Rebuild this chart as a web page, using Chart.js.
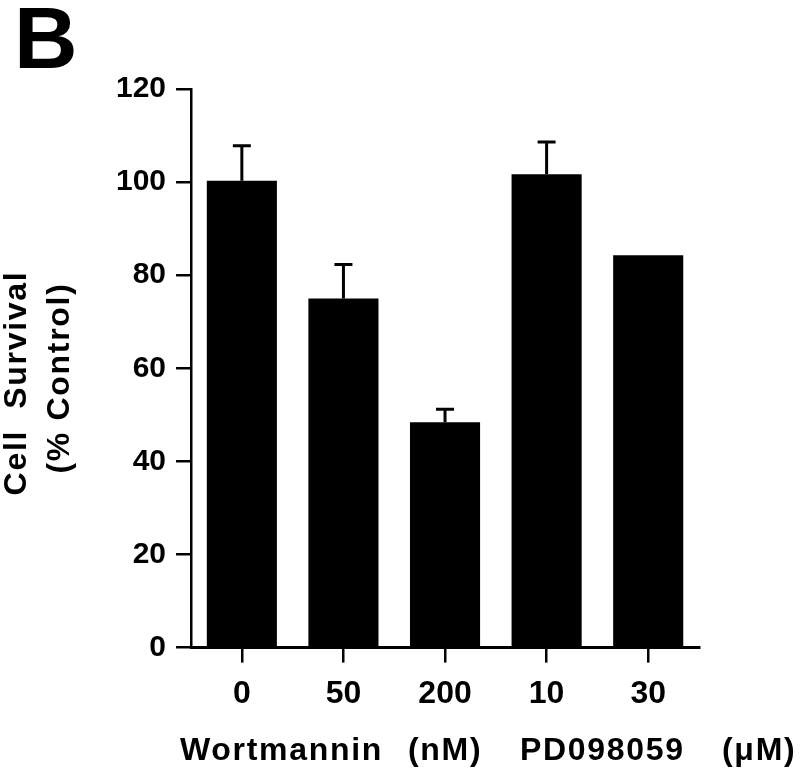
<!DOCTYPE html>
<html>
<head>
<meta charset="utf-8">
<script src="https://cdn.jsdelivr.net/npm/chart.js@4"></script>
<style>
  body { margin: 0; background: #fff; }
  #wrap { width: 800px; height: 768px; }
</style>
</head>
<body>
<div id="wrap"><canvas id="survivalChart" width="800" height="768"></canvas></div>
<script>
const doseLabels = ['0', '50', '200', '10', '30'];
const survival = [100.3, 75, 48.4, 101.7, 84.3];
const survivalErr = [7.5, 7.3, 2.8, 6.9, 0];
const yTickStep = 20;
const yMax = 120;

const FONT = "'Liberation Sans', Arial, Helvetica, sans-serif";

// T-shaped (upper only) error bars
const errorBars = {
  id: 'errorBars',
  afterDatasetsDraw(chart) {
    const ctx = chart.ctx;
    const meta = chart.getDatasetMeta(0);
    const y = chart.scales.y;
    ctx.save();
    ctx.strokeStyle = '#000';
    ctx.lineWidth = 3;
    meta.data.forEach((bar, i) => {
      if (!survivalErr[i]) return;
      const top = y.getPixelForValue(survival[i]);
      const cap = y.getPixelForValue(survival[i] + survivalErr[i]);
      ctx.beginPath();
      ctx.moveTo(bar.x, top);
      ctx.lineTo(bar.x, cap);
      ctx.moveTo(bar.x - 9, cap);
      ctx.lineTo(bar.x + 9, cap);
      ctx.stroke();
    });
    ctx.restore();
  }
};

// axis titles and panel letter
const figureText = {
  id: 'figureText',
  afterDraw(chart) {
    const ctx = chart.ctx;
    ctx.save();
    ctx.fillStyle = '#000';

    ctx.font = 'bold 88px ' + FONT;
    ctx.textAlign = 'left';
    ctx.textBaseline = 'alphabetic';
    ctx.fillText('B', 14, 68);

    ctx.letterSpacing = '1.7px';
    ctx.font = 'bold 32px ' + FONT;
    ctx.fillText('Wortmannin', 180, 760);
    ctx.fillText('(nM)', 408, 760);
    ctx.fillText('PD098059', 520, 760);
    ctx.fillText('(\u03BCM)', 722, 760);

    ctx.textAlign = 'center';
    ctx.textBaseline = 'middle';
    ctx.save();
    ctx.translate(17, 383);
    ctx.rotate(-Math.PI / 2);
    ctx.fillText('Cell  Survival', 0, 0);
    ctx.restore();
    ctx.save();
    ctx.translate(60, 378);
    ctx.rotate(-Math.PI / 2);
    ctx.fillText('(% Control)', 0, 0);
    ctx.restore();

    ctx.restore();
  }
};

const config = {
  type: 'bar',
  data: {
    labels: doseLabels,
    datasets: [{
      data: survival,
      backgroundColor: '#000',
      borderWidth: 0,
      barPercentage: 0.69,
      categoryPercentage: 1.0
    }]
  },
  options: {
    responsive: false,
    animation: false,
    devicePixelRatio: 1,
    layout: {
      padding: { left: 106, top: 89, right: 101, bottom: 43 }
    },
    plugins: {
      legend: { display: false },
      tooltip: { enabled: false },
      title: { display: false }
    },
    scales: {
      x: {
        offset: true,
        border: { display: true, color: '#000', width: 3 },
        grid: {
          offset: false,
          drawOnChartArea: false,
          drawTicks: true,
          tickLength: 15,
          lineWidth: 2.5,
          color: '#000'
        },
        ticks: {
          color: '#000',
          padding: 12,
          font: { family: FONT, size: 32, weight: 'bold' }
        }
      },
      y: {
        min: 0,
        max: yMax,
        border: { display: true, color: '#000', width: 2.5 },
        grid: {
          drawOnChartArea: false,
          drawTicks: true,
          tickLength: 15,
          lineWidth: 2.5,
          color: '#000'
        },
        ticks: {
          stepSize: yTickStep,
          color: '#000',
          padding: 10,
          font: { family: FONT, size: 30, weight: 'bold' }
        }
      }
    }
  },
  plugins: [errorBars, figureText]
};

const survivalChart = new Chart(document.getElementById('survivalChart'), config);
</script>
</body>
</html>
